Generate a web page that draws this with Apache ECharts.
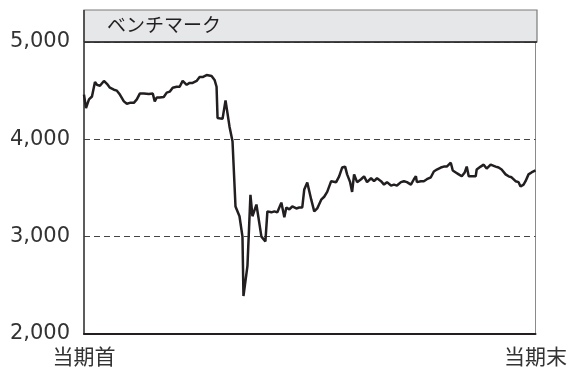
<!DOCTYPE html>
<html><head><meta charset="utf-8">
<script src="https://cdn.jsdelivr.net/npm/echarts@6/dist/echarts.min.js"></script>
<style>html,body{margin:0;padding:0;background:#fff}#c{width:570px;height:369px}</style>
</head><body><div id="c"></div>
<script>
// time position within the period (0 = 当期首, 453 = 当期末)
const t = [0,2,5,8,11,13,16,20,23,26,30,33,36,40,43,46,50,53,56,60,65,69,71,73,76,80,83,86,89,93,96,99,103,106,109,113,116,119,123,125,128,131,133,134,139,142,146,149,152,156,159,160,164,167,169,173,178,182,184,188,191,194,198,201,203,206,209,213,216,219,221,224,228,231,234,238,241,244,248,250,253,256,259,262,264,267,269,271,274,278,281,284,288,291,294,298,301,304,308,311,314,318,321,324,328,331,333,334,338,341,344,348,351,354,358,361,364,368,370,373,376,379,382,384,386,389,393,394,398,401,404,408,410,413,416,419,423,426,429,433,436,438,441,443,446,449,451,453];
const bench = [4460,4320,4410,4440,4590,4560,4550,4600,4570,4530,4510,4500,4460,4390,4365,4375,4375,4410,4470,4470,4465,4470,4390,4430,4430,4435,4480,4490,4530,4540,4540,4600,4560,4580,4580,4600,4640,4640,4660,4680,4650,4610,4540,4220,4210,4400,4130,3980,3310,3210,3000,2390,2700,3430,3210,3330,3000,2950,3260,3250,3260,3250,3350,3200,3300,3280,3310,3290,3300,3300,3485,3556,3380,3260,3290,3380,3410,3460,3570,3590,3560,3620,3710,3720,3640,3560,3460,3640,3560,3590,3620,3560,3600,3570,3600,3570,3535,3560,3525,3535,3525,3560,3570,3560,3535,3590,3620,3560,3570,3570,3590,3610,3670,3690,3710,3720,3720,3760,3680,3660,3640,3620,3660,3720,3620,3620,3620,3690,3720,3740,3700,3740,3760,3720,3710,3690,3640,3620,3610,3570,3560,3515,3535,3570,3640,3660,3670,3680];
const xLabels = ['当期首','当期末'];
const yTicks = [2000,3000,4000,5000];
const title = 'ベンチマーク';

const W = 570, H = 369;
const G = {left:84, right:33, top:42, bottom:34};
const headerTop = 10;
const font = '"DejaVu Sans","Noto Sans CJK JP",sans-serif';

const chart = echarts.init(document.getElementById('c'), null, {renderer:'canvas'});
const gw = W - G.left - G.right;
chart.setOption({
  animation:false,
  grid:{left:G.left,right:G.right,top:G.top,bottom:G.bottom,show:true,borderColor:'#8a8a8a',borderWidth:1,backgroundColor:'transparent'},
  xAxis:{type:'value',min:t[0],max:t[t.length-1],interval:t[t.length-1]-t[0],
    axisLine:{show:true,onZero:false,lineStyle:{color:'#231f20',width:2}},
    axisTick:{show:false},splitLine:{show:false},
    axisLabel:{fontSize:21,color:'#333',fontFamily:font,margin:14,
      formatter:v=> v===t[0]?xLabels[0]:xLabels[1]}},
  yAxis:{type:'value',min:yTicks[0],max:yTicks[yTicks.length-1],interval:1000,
    axisLine:{show:true,lineStyle:{color:'#3a3a3a',width:1.5}},
    axisTick:{show:false},
    splitLine:{show:true,lineStyle:{color:'#444',width:1,type:[6,4]}},
    axisLabel:{fontSize:21,color:'#333',fontFamily:font,margin:14,
      formatter:v=>v.toLocaleString('en-US')}},
  series:[{type:'line',data:t.map((x,i)=>[x,bench[i]]),showSymbol:false,
    lineStyle:{color:'#231f20',width:2.5},z:5}],
  graphic:[
    {type:'rect',shape:{x:G.left,y:headerTop,width:gw,height:G.top-headerTop},
     style:{fill:'#e6e7e8',stroke:'#7a7a7a',lineWidth:1.2},z:10},
    {type:'line',shape:{x1:G.left,y1:G.top,x2:G.left+gw,y2:G.top},
     style:{stroke:'#231f20',lineWidth:1.5},z:11},
    {type:'line',shape:{x1:G.left,y1:headerTop,x2:G.left,y2:G.top},
     style:{stroke:'#3a3a3a',lineWidth:1.5},z:11},
    {type:'text',left:G.left+23,top:headerTop+5,
     style:{text:title,fontSize:19,fill:'#231f20',fontFamily:'"Noto Sans CJK JP",sans-serif'},z:12}
  ]
});
</script></body></html>
